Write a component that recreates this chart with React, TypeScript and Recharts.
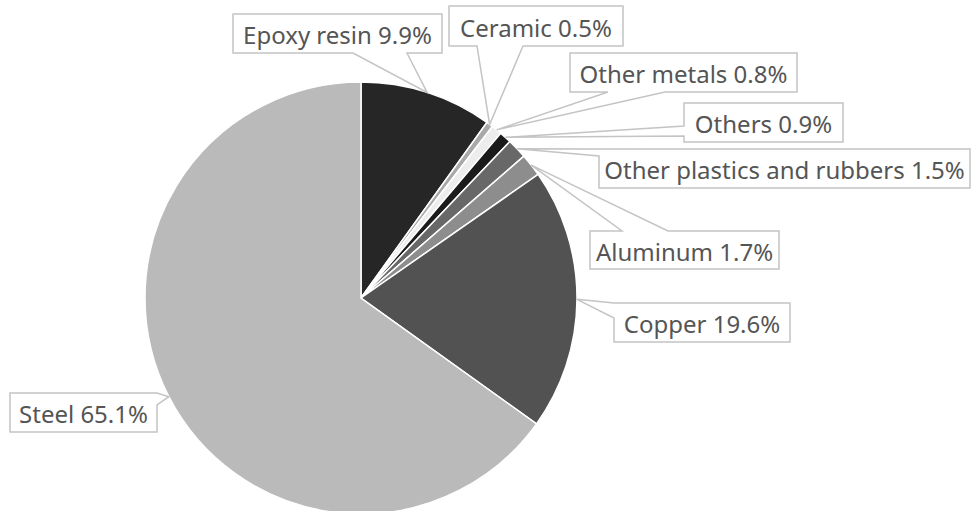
import { PieChart, Pie, Cell } from "recharts";

const materials = [
  "Epoxy resin",
  "Ceramic",
  "Other metals",
  "Others",
  "Other plastics and rubbers",
  "Aluminum",
  "Copper",
  "Steel",
];
const shares = [9.9, 0.5, 0.8, 0.9, 1.5, 1.7, 19.6, 65.1];
const colors = [
  "#262626",
  "#a9a9a9",
  "#ededed",
  "#1b1b1b",
  "#686868",
  "#8d8d8d",
  "#525252",
  "#bababa",
];

type Side = "top" | "right" | "bottom" | "left";
interface Callout {
  x: number;
  y: number;
  w: number;
  h: number;
  side: Side;
  a: number;
  b: number;
}

// label boxes (page px); a/b = where the pointer leaves the box edge
const callouts: Record<string, Callout> = {
  "Epoxy resin": { x: 233, y: 14, w: 209, h: 39, side: "bottom", a: 353, b: 407 },
  Ceramic: { x: 449, y: 6, w: 174, h: 40, side: "bottom", a: 477, b: 523 },
  "Other metals": { x: 570, y: 53, w: 227, h: 39, side: "bottom", a: 608, b: 665 },
  Others: { x: 684, y: 103, w: 159, h: 39, side: "left", a: 126, b: 136 },
  "Other plastics and rubbers": { x: 599, y: 149, w: 371, h: 39, side: "left", a: 149, b: 156 },
  Aluminum: { x: 590, y: 231, w: 189, h: 38, side: "top", a: 622, b: 668 },
  Copper: { x: 614, y: 303, w: 176, h: 39, side: "left", a: 303, b: 318 },
  Steel: { x: 10, y: 393, w: 147, h: 39, side: "right", a: 393, b: 405 },
};

const data = materials.map((name, i) => ({ name, value: shares[i] }));

const RADIAN = Math.PI / 180;

function calloutPath(c: Callout, tx: number, ty: number) {
  const { x, y, w, h, side, a, b } = c;
  const p: string[] = [`M${x},${y}`];
  if (side === "top") p.push(`L${a},${y}`, `L${tx},${ty}`, `L${b},${y}`);
  p.push(`L${x + w},${y}`);
  if (side === "right") p.push(`L${x + w},${a}`, `L${tx},${ty}`, `L${x + w},${b}`);
  p.push(`L${x + w},${y + h}`);
  if (side === "bottom") p.push(`L${b},${y + h}`, `L${tx},${ty}`, `L${a},${y + h}`);
  p.push(`L${x},${y + h}`);
  if (side === "left") p.push(`L${x},${b}`, `L${tx},${ty}`, `L${x},${a}`);
  p.push("Z");
  return p.join(" ");
}

const renderLabel = (props: any) => {
  const { cx, cy, midAngle, outerRadius, name, value } = props;
  const c = callouts[name];
  if (!c) return null;
  const tx = cx + outerRadius * Math.cos(-midAngle * RADIAN);
  const ty = cy + outerRadius * Math.sin(-midAngle * RADIAN);
  return (
    <g>
      <rect x={c.x} y={c.y} width={c.w} height={c.h} fill="#fff" />
      <path
        d={calloutPath(c, tx, ty)}
        fill="none"
        stroke="#c4c4c4"
        strokeWidth={1.5}
      />
      <text
        x={c.x + c.w / 2}
        y={c.y + c.h / 2 + 1}
        textAnchor="middle"
        dominantBaseline="central"
        fill="#555"
        fontSize={24}
        fontFamily="'Noto Sans', sans-serif"
      >
        {`${name} ${Number(value).toFixed(1)}%`}
      </text>
    </g>
  );
};

export default function App() {
  return (
    <div
      style={{
        position: "fixed",
        left: 0,
        top: 0,
        width: 978,
        height: 511,
        background: "#fff",
      }}
    >
      <PieChart width={978} height={511}>
        <Pie
          data={data}
          dataKey="value"
          nameKey="name"
          cx={356}
          cy={293}
          outerRadius={216}
          startAngle={90}
          endAngle={-270}
          stroke="#fff"
          strokeWidth={1.5}
          labelLine={false}
          label={renderLabel}
          isAnimationActive={false}
        >
          {data.map((entry, i) => (
            <Cell key={`cell-${entry.name}`} fill={colors[i]} />
          ))}
        </Pie>
      </PieChart>
    </div>
  );
}
